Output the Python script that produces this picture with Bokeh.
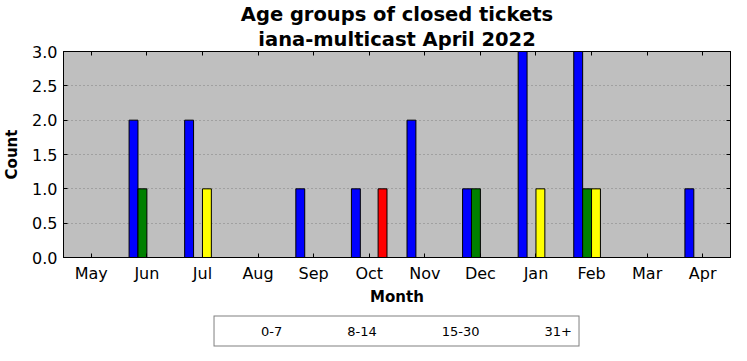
from bokeh.plotting import figure
from bokeh.layouts import column
from bokeh.models import (Range1d, FixedTicker, LinearAxis, Legend, LegendItem,
                          ColumnDataSource, NumeralTickFormatter, Title)
from bokeh.embed import file_html
from bokeh.resources import INLINE

months = ["May", "Jun", "Jul", "Aug", "Sep", "Oct", "Nov", "Dec", "Jan", "Feb", "Mar", "Apr"]
series_names = ["0-7", "8-14", "15-30", "31+"]
age_0_7 = [0, 2, 2, 0, 1, 1, 2, 1, 3, 3, 0, 1]
age_8_14 = [0, 1, 0, 0, 0, 0, 0, 1, 0, 1, 0, 0]
age_15_30 = [0, 0, 1, 0, 0, 0, 0, 0, 1, 1, 0, 0]
age_31_plus = [0, 0, 0, 0, 0, 1, 0, 0, 0, 0, 0, 0]
y_ticks = [0.0, 0.5, 1.0, 1.5, 2.0, 2.5, 3.0]
title_line1 = "Age groups of closed tickets"
title_line2 = "iana-multicast April 2022"

series = [age_0_7, age_8_14, age_15_30, age_31_plus]
colors = ["#0000ff", "#008000", "#ffff00", "#ff0000"]
bar_w = 0.16
offsets = [-1.5 * bar_w, -0.5 * bar_w, 0.5 * bar_w, 1.5 * bar_w]

FONT = "DejaVu Sans"

p = figure(width=735, height=310,
           x_range=Range1d(-0.5, 11.5), y_range=Range1d(0, 3),
           output_backend="svg", toolbar_location=None,
           min_border_left=54, min_border_right=5, min_border_top=45,
           min_border_bottom=53, title=None)

p.background_fill_color = "#bfbfbf"
p.border_fill_color = "white"
p.outline_line_color = "black"
p.outline_line_width = 1

idx = list(range(len(months)))
renderers = []
for s, c, off in zip(series, colors, offsets):
    src = ColumnDataSource(dict(x=[i + off for i in idx], top=s))
    r = p.vbar(x="x", top="top", width=bar_w, source=src, fill_color=c,
               line_color="black", line_width=1)
    renderers.append(r)

# axes
xa = p.xaxis[0]
xa.ticker = FixedTicker(ticks=idx)
xa.major_label_overrides = {i: m for i, m in enumerate(months)}
xa.axis_label = "Month"
ya = p.yaxis[0]
ya.ticker = FixedTicker(ticks=y_ticks)
ya.formatter = NumeralTickFormatter(format="0.0")
ya.axis_label = "Count"

for ax in (xa, ya):
    ax.major_label_text_font = FONT
    ax.major_label_text_font_size = "16px"
    ax.major_label_text_color = "black"
    ax.axis_label_text_font = FONT
    ax.axis_label_text_font_size = "15px"
    ax.axis_label_text_font_style = "bold"
    ax.axis_label_text_color = "black"
    ax.major_tick_in = 4
    ax.major_tick_out = 0
    ax.minor_tick_in = 0
    ax.minor_tick_out = 0
    ax.axis_line_color = "black"
    ax.major_tick_line_color = "black"
    ax.major_label_standoff = 6
xa.axis_label_standoff = 2
ya.axis_label_standoff = 8

top_ax = LinearAxis(ticker=FixedTicker(ticks=idx))
right_ax = LinearAxis(ticker=FixedTicker(ticks=y_ticks))
for ax in (top_ax, right_ax):
    ax.major_label_text_font_size = "0px"
    ax.major_label_text_color = None
    ax.major_label_standoff = 0
    ax.major_tick_in = 4
    ax.major_tick_out = 0
    ax.minor_tick_in = 0
    ax.minor_tick_out = 0
    ax.axis_line_color = "black"
    ax.major_tick_line_color = "black"
p.add_layout(top_ax, "above")
p.add_layout(right_ax, "right")

t2 = Title(text=title_line2, align="center", text_font=FONT, text_font_size="19.5px",
           text_font_style="bold", text_color="black", standoff=1, offset=0,
           text_line_height=1.0)
t1 = Title(text=title_line1, align="center", text_font=FONT, text_font_size="19.5px",
           text_font_style="bold", text_color="black", standoff=0, offset=0,
           text_line_height=1.0)
p.add_layout(t2, "above")
p.add_layout(t1, "above")

p.xgrid.grid_line_color = None
p.ygrid.ticker = FixedTicker(ticks=y_ticks)
p.ygrid.grid_line_color = "#808080"
p.ygrid.grid_line_dash = "1 3"
p.ygrid.grid_line_width = 1

# legend strip below the chart
p2 = figure(width=735, height=39, output_backend="svg", toolbar_location=None,
            min_border_left=54, min_border_right=5, min_border_top=3,
            min_border_bottom=0, x_axis_type=None, y_axis_type=None, title=None)
p2.outline_line_color = None
p2.grid.grid_line_color = None
p2.background_fill_color = "white"
p2.border_fill_color = "white"
leg_renderers = []
for c in colors:
    r = p2.vbar(x=[], top=[], width=bar_w, fill_color=c, line_color="black", line_width=1)
    leg_renderers.append(r)

legend = Legend(items=[LegendItem(label=n, renderers=[r]) for n, r in zip(series_names, leg_renderers)],
                orientation="horizontal", location="center")
legend.label_text_font = FONT
legend.label_text_font_size = "13px"
legend.label_text_color = "black"
legend.glyph_width = 29
legend.glyph_height = 10
legend.label_standoff = 11
legend.spacing = 25
legend.padding = 7
legend.margin = 0
legend.border_line_color = "black"
legend.border_line_width = 1
legend.background_fill_color = "white"
p2.add_layout(legend, "center")

layout = column(p, p2, spacing=0)
open("out.html", "w").write(file_html(layout, INLINE))
